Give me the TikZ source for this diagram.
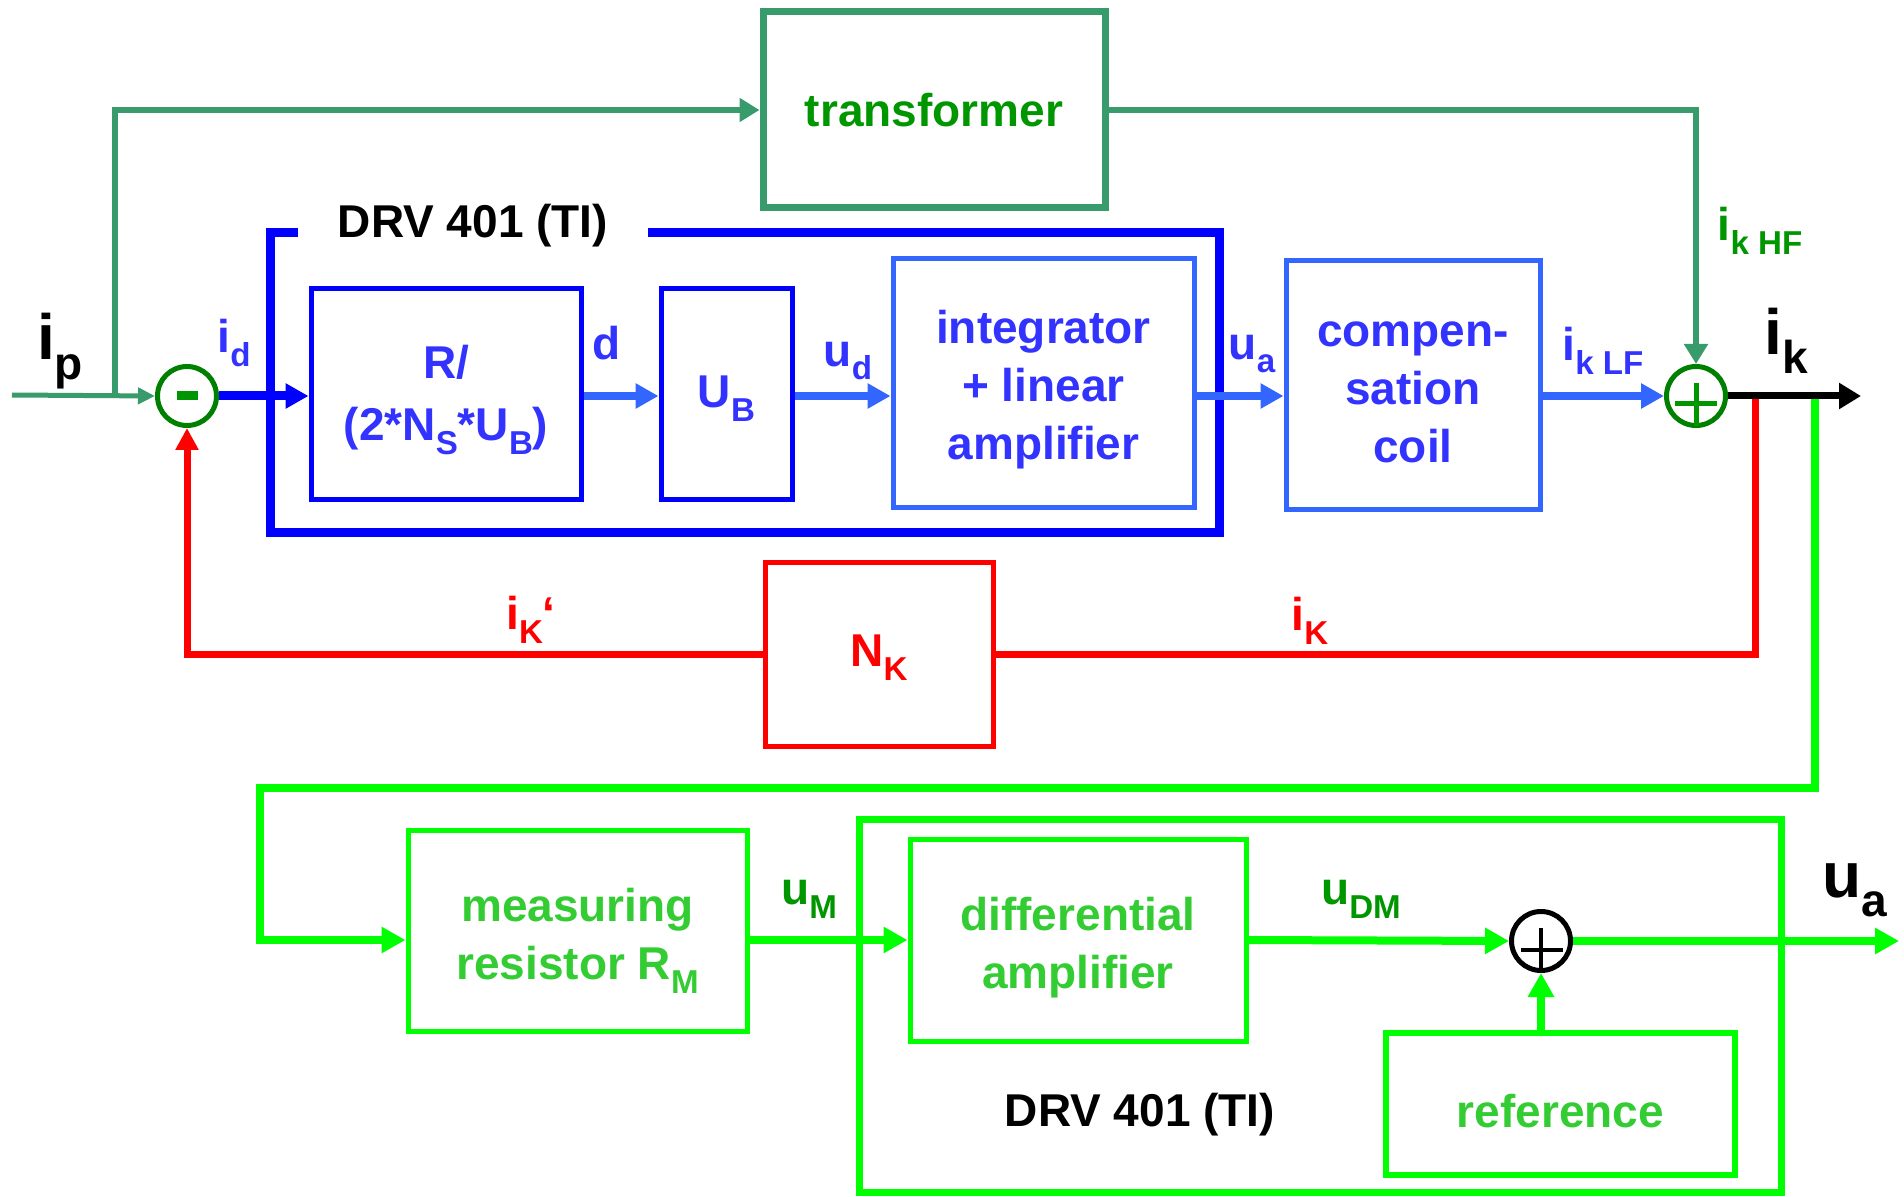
\documentclass[tikz,border=0pt]{standalone}
\usepackage{fontspec}
\setmainfont{Liberation Sans}
\usepackage{graphicx}
\usepackage{tikz}
\usetikzlibrary{arrows.meta}
\definecolor{tgreen}{RGB}{56,155,108}
\definecolor{dgreen}{RGB}{0,150,0}
\definecolor{sgreen}{RGB}{0,128,0}
\definecolor{dblue}{RGB}{0,0,255}
\definecolor{lblue}{RGB}{51,102,255}
\definecolor{tblue}{RGB}{51,51,255}
\definecolor{lgreen}{RGB}{0,255,0}
\definecolor{tlgreen}{RGB}{51,204,51}
\newcommand{\lowsub}[1]{\raisebox{-0.3em}{\scalebox{0.72}{#1}}}
\tikzstyle{block}=[rectangle, draw
,line width=2.5pt
,inner sep=0pt
]
\tikzstyle{sumnode}=[circle, draw, line width=2.5pt, minimum size=29.5pt, inner sep=0pt]
\tikzstyle{lbl}=[inner sep=0pt, align=center]
\tikzstyle{biglbl}=[inner sep=0pt, font=\bfseries\fontsize{32}{38}\selectfont]
\tikzstyle{tline}=[draw, tgreen, line width=3pt, -{Triangle[length=10pt,width=11.5pt]}]
\tikzstyle{bline}=[draw, lblue, line width=4pt, -{Triangle[length=11.5pt,width=12pt]}]
\tikzstyle{rline}=[draw, red, line width=3.5pt]
\tikzstyle{gline}=[draw, lgreen, line width=4pt, -{Triangle[length=12pt,width=12.5pt]}]

\begin{document}
\begin{tikzpicture}[x=0.5pt,y=-0.5pt,every node/.style={font=\bfseries\fontsize{23}{29}\selectfont}]
    \useasboundingbox (0,0) rectangle (1904,1197);
    % First we draw the blocks of the loop
    \node[block, tgreen, line width=3.5pt, minimum width=171pt, minimum height=98pt, text=dgreen] (trafo) at (934,110) {transformer};
    \node[block, dblue, line width=4.5pt, minimum width=474.5pt, minimum height=149.5pt] (drv) at (744.5,382.5) {};
    \node[fill=white, minimum width=175pt, inner sep=0pt] (drvtitle) at (473,226) {DRV 401 (TI)};
    \node[block, dblue, minimum width=135pt, minimum height=105pt] (rblk) at (446,394) {};
    \node[block, dblue, minimum width=65.5pt, minimum height=105pt] (ub) at (726.5,394) {};
    \node[block, lblue, minimum width=150.5pt, minimum height=124pt] (integ) at (1043.5,383) {};
    \node[block, lblue, minimum width=127pt, minimum height=124pt] (coil) at (1413,385) {};
    \node[block, red, minimum width=114pt, minimum height=92pt] (nk) at (879,654) {};
    \node[sumnode, sgreen] (sub) at (187,396) {\textcolor{dgreen}{\rule{10.5pt}{4.5pt}}};
    \node[sumnode, sgreen] (add) at (1696,396) {};
    \draw[dgreen, line width=2.5pt] ([shift={(-21,8)}]add.center) -- ([shift={(21,8)}]add.center)
        ([shift={(0,-13)}]add.center) -- ([shift={(0,30)}]add.center);
    % texts of the blocks sit a bit low
    \node[lbl, text=tblue] (rblktxt) at ([yshift=-3pt]rblk.center) {R/\\[2pt](2*N\lowsub{S}*U\lowsub{B})};
    \node[lbl, text=tblue] (ubtxt) at ([yshift=-2.5pt]ub.center) {U\lowsub{B}};
    \node[lbl, text=tblue] (integtxt) at ([yshift=-3.5pt]integ.center) {integrator\\+ linear\\amplifier};
    \node[lbl, text=tblue] (coiltxt) at ([yshift=-3.5pt]coil.center) {compen-\\sation\\coil};
    \node[lbl, text=red] (nktxt) at ([yshift=-2pt]nk.center) {N\lowsub{K}};

    % Then the measuring part
    \node[block, lgreen, line width=3.5pt, minimum width=461pt, minimum height=186.5pt] (drvb) at (1320,1005.5) {};
    \node[block, lgreen, minimum width=169.5pt, minimum height=100.5pt] (meas) at (577.5,930.5) {};
    \node[block, lgreen, minimum width=168pt, minimum height=101pt] (diff) at (1078,940) {};
    \node[block, lgreen, line width=3pt, minimum width=174.5pt, minimum height=71pt] (ref) at (1560.5,1104) {};
    \node[sumnode, black] (add2) at (1541,941) {};
    \draw[black, line width=2pt] ([shift={(-20,9)}]add2.center) -- ([shift={(22,9)}]add2.center)
        ([shift={(0,-13)}]add2.center) -- ([shift={(0,27)}]add2.center);
    \node[lbl, text=tlgreen] (meastxt) at ([yshift=-5pt]meas.center) {measuring\\resistor R\lowsub{M}};
    \node[lbl, text=tlgreen] (difftxt) at ([yshift=-4pt]diff.center) {differential\\amplifier};
    \node[lbl, text=tlgreen] (reftxt) at ([yshift=-3.5pt]ref.center) {reference};
    \node[lbl] (drvbtitle) at (1140,1115) {DRV 401 (TI)};

    % Free ends of the connectors
    \coordinate (ipin) at (12,395);
    \coordinate (ipsplit) at (115,395);
    \coordinate (rtap) at (1755,396);
    \coordinate (gtap) at (1815,396);
    \coordinate (gbend) at (260,788);
    \coordinate (ikout) at (1861,396);
    \coordinate (uaout) at (1899,941);

    % Connect blocks with edges
    \path[tline, line width=2.5pt, -{Triangle[length=8.5pt,width=8pt]}] (ipin) -- (sub.west);
    \path[tline] (ipsplit) |- (trafo.west);
    \path[tline] (trafo.east) -| (add.north);
    \path[bline, dblue, line width=4.5pt] (sub) -- (rblk.west |- sub);
    \foreach \source/ \dest in {rblk/ub, ub/integ, integ/coil, coil/add}
        \path[bline] (\source.east |- add) -- (\dest.west |- add);
    \path[rline] (rtap) |- (nk.east);
    \path[rline, -{Triangle[length=11pt,width=11pt]}] (nk.west) -| (sub.south);
    \path[gline] (gtap) |- (gbend) |- (meas.west |- diff.west);
    \path[gline] (meas.east |- diff.west) -- (diff.west);
    \path[gline] (diff.east) -- (add2.west);
    \path[gline] (add2 |- ref.north) -- (add2.south);
    \path[gline] (add2.east) -- (uaout);
    \path[draw, black, line width=3.5pt, -{Triangle[length=11pt,width=12.5pt]}] (add.east) -- (ikout);

    % Signal names
    \foreach \pos/\name/\txt in {(234,343)/lid/i\lowsub{d}, (607,343)/ld/d, (848,361)/lud/u\lowsub{d}, (1252,354)/lua/u\lowsub{a}, (1603,351)/liklf/i\lowsub{k LF}}
        \node[lbl, text=tblue] (\name) at \pos {\txt};
    \foreach \pos/\name/\txt in {(531,620)/likp/i\lowsub{K}‘, (1310,621)/lik/i\lowsub{K}}
        \node[lbl, text=red] (\name) at \pos {\txt};
    \foreach \pos/\name/\txt in {(1760,231)/likhf/i\lowsub{k HF}, (809,899)/lum/u\lowsub{M}, (1361,899)/ludm/u\lowsub{DM}}
        \node[lbl, text=dgreen] (\name) at \pos {\txt};
    \foreach \pos/\name/\txt in {(60,351)/lip/i\lowsub{p}, (1786,341)/likb/i\lowsub{k}, (1855,890)/luab/u\lowsub{a}}
        \node[biglbl] (\name) at \pos {\txt};
\end{tikzpicture}
\end{document}
